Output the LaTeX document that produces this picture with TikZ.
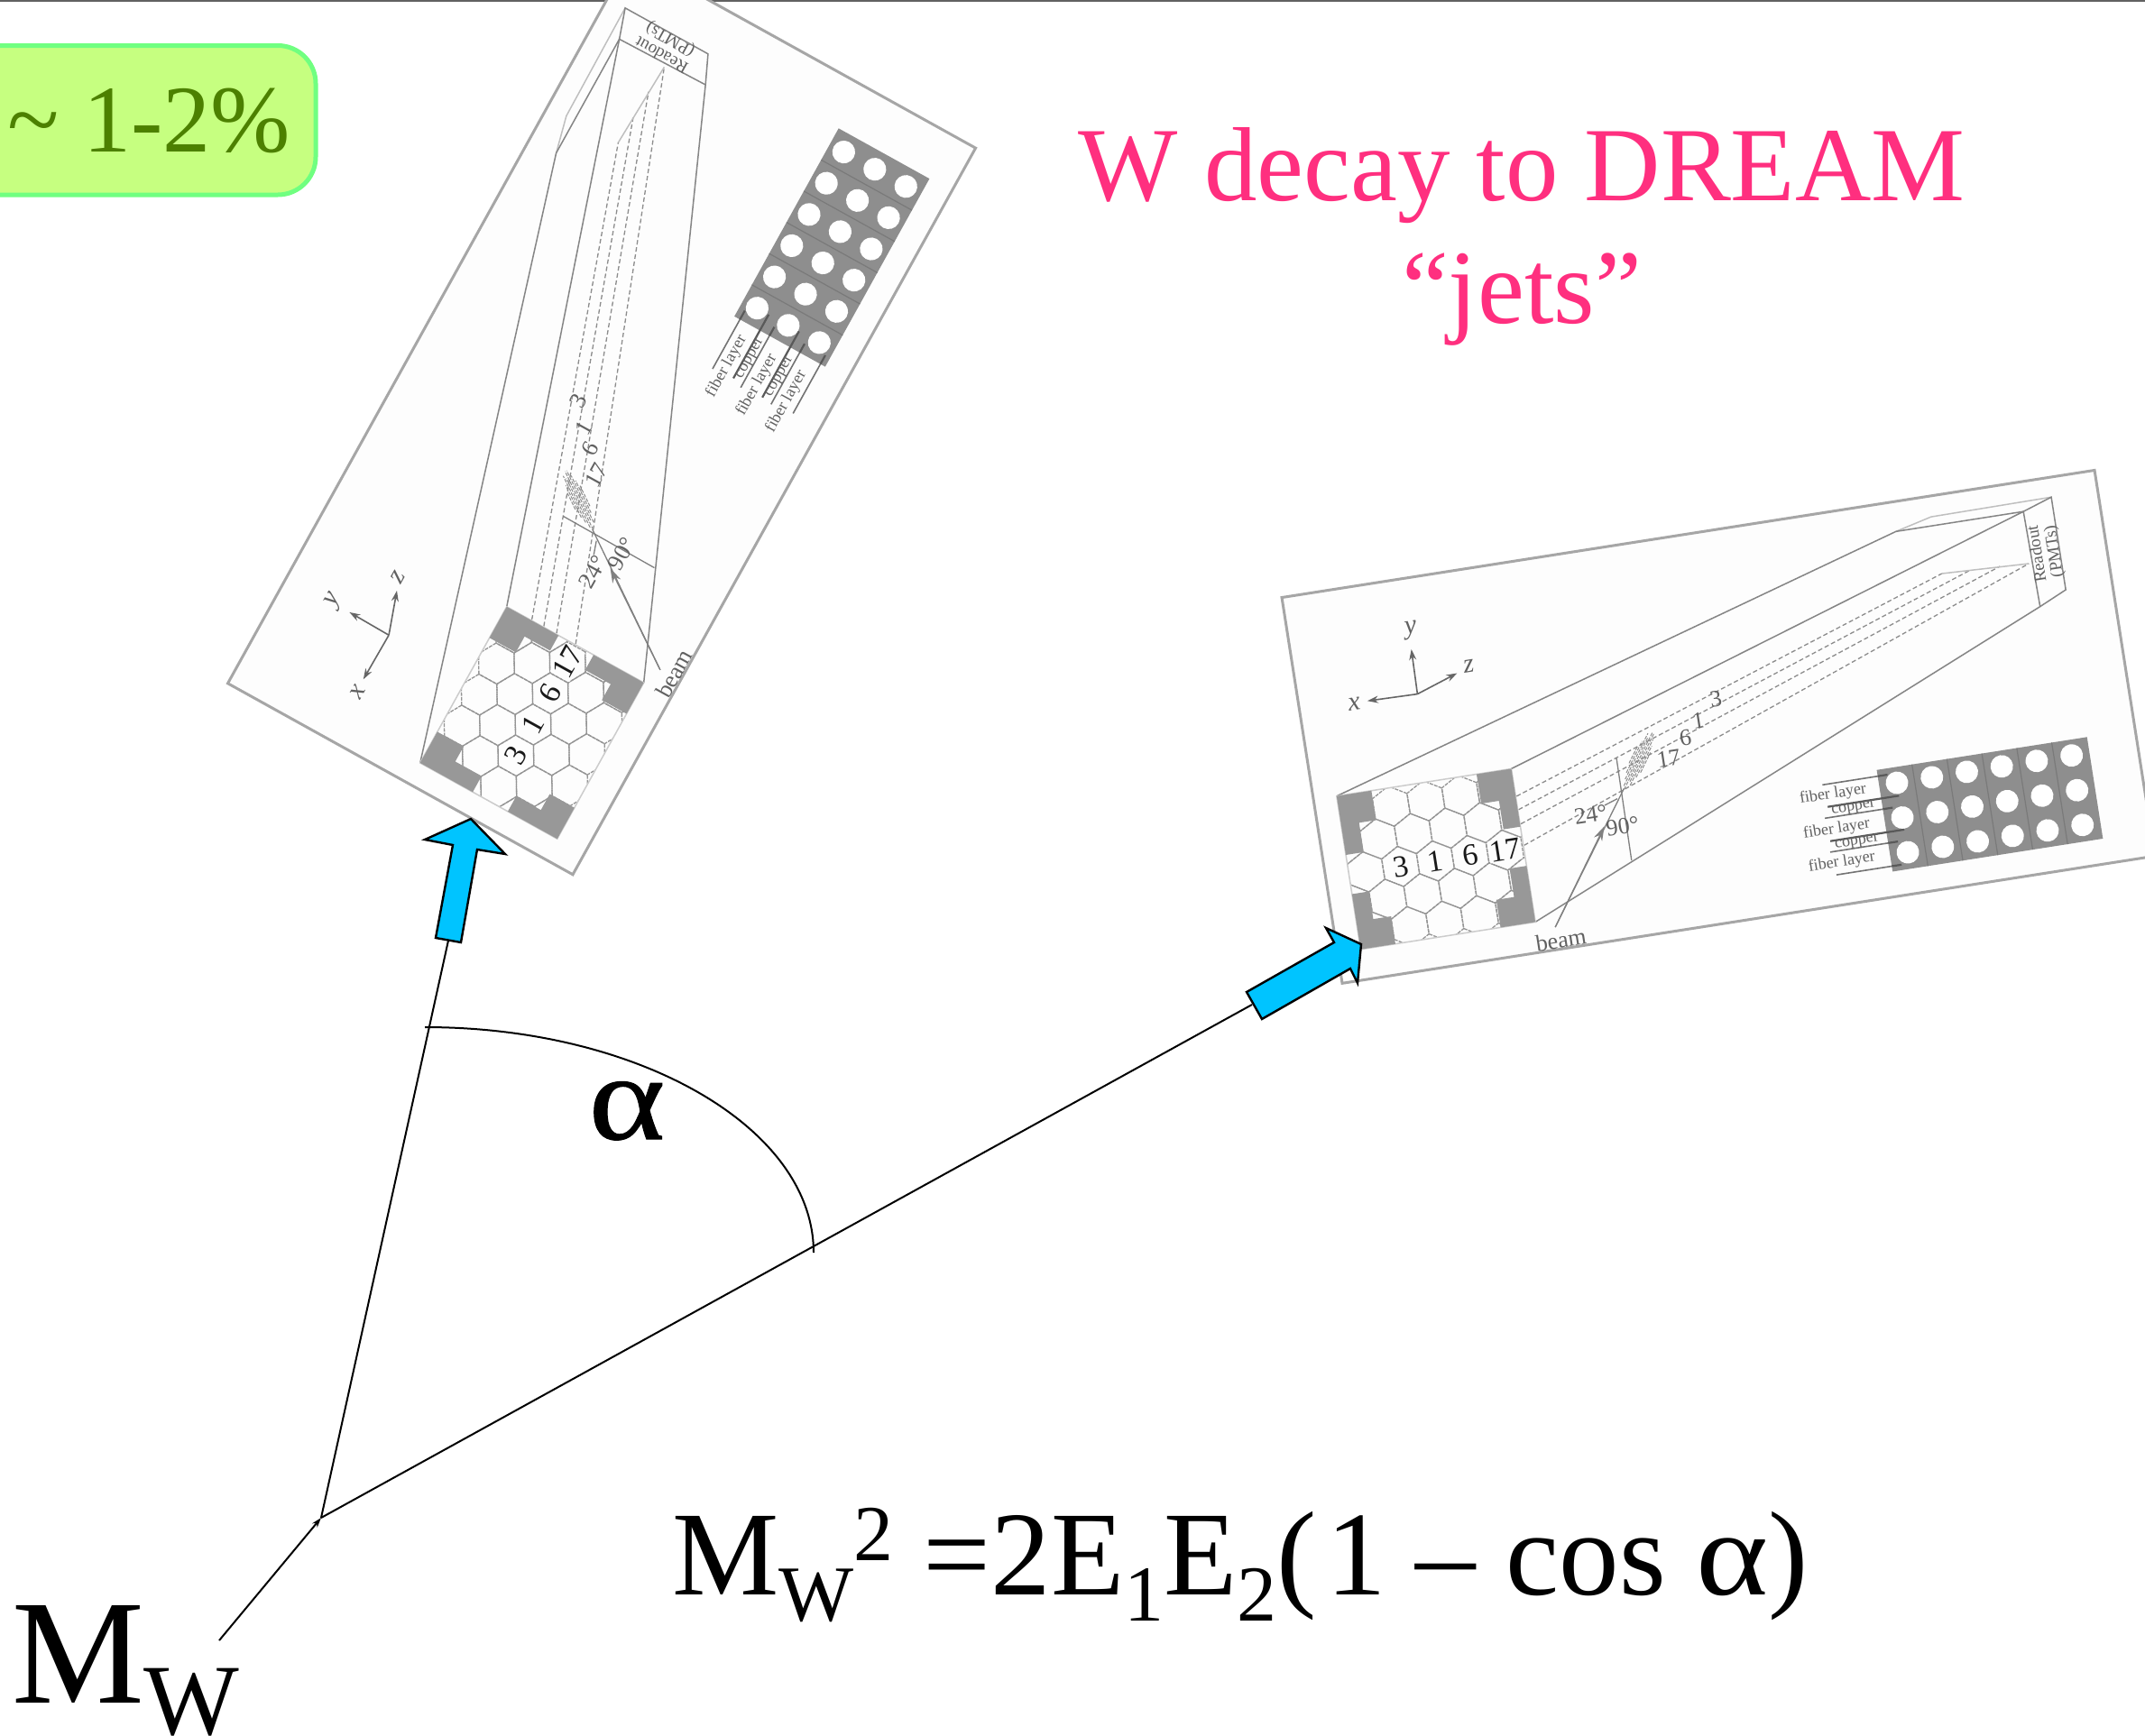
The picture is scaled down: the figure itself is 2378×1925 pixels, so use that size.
\documentclass[tikz,border=0pt]{standalone}
\usepackage{fontspec}
\setmainfont{Liberation Serif}
\newfontfamily\wideserif[FakeStretch=1.15]{Liberation Serif}
\newfontfamily\heavyserif[FakeStretch=1.2,FakeBold=0.8]{Liberation Serif}
\usetikzlibrary{arrows.meta}
\definecolor{imgbg}{HTML}{FDFDFD}
\definecolor{imgedge}{HTML}{A6A6A6}
\definecolor{platecol}{HTML}{8E8E8E}
\definecolor{cornercol}{HTML}{989898}
\definecolor{greenfill}{HTML}{C6FF80}
\definecolor{greenedge}{HTML}{70FF80}
\definecolor{greentext}{HTML}{4C8000}
\definecolor{pinktext}{HTML}{FF2F7F}
\definecolor{bluefill}{HTML}{00C4FF}
\newcommand\fsz[1]{\fontsize{#1}{#1}\selectfont}
\tikzset{
  imgframe/.style={draw=imgedge,fill=imgbg,line width=3pt},
  boxline/.style={draw=black!48,line width=1.5pt},
  farline/.style={draw=black!25,line width=1.5pt},
  hexline/.style={draw=black!42,line width=1.3pt,dash pattern=on 4pt off 1.2pt},
  fibreline/.style={draw=black!45,line width=1.3pt,dash pattern=on 5pt off 3pt},
  corner/.style={fill=cornercol,draw=none},
  dettext/.style={inner sep=0pt,text=black!62},
  cellnum/.style={inner sep=1pt,text=black!90,fill=imgbg,font=\fsz{34}},
  thinray/.style={draw=black!50,line width=1.3pt},
  axisline/.style={draw=black!60,line width=1.6pt,-{Stealth[length=12pt,width=8pt]}},
  layerline/.style={draw=black!55,line width=1.6pt},
  copperline/.style={draw=black!65,line width=2.2pt},
  bluearrow/.style={draw=black,fill=bluefill,line width=2.4pt,line join=miter},
  thin line/.style={draw=black,line width=2pt},
}
\newcommand\detector[1]{%
  \begin{scope}[name prefix=#1-]
    \path[imgframe] (-2,0) rectangle (910,433);
    % far end of the box
    \path[farline] (682,400) -- (723,410) -- (858,411);
    \path[boxline] (24,206) -- (682,400) -- (825,400);
    \path[boxline] (220,206) -- (825,400) -- (827,293) -- (220,34);
    \path[boxline] (825,400) -- (858,411) -- (858,307) -- (827,293);
    \node[dettext,rotate=90,align=center,font=\fsz{19}] (readout) at (843,351) {Readout\\(PMTs)};
    % fibres
    \path[fibreline] (221,175) -- (725,346);
    \path[fibreline] (221,160) -- (757,345);
    \path[fibreline] (221,144) -- (790,344);
    \path[fibreline] (221,120) -- (822,342);
    \path[farline] (725,346) -- (822,342);
    \node[dettext,font=\fsz{26}] (f3) at (456,247) {3};
    \node[dettext,font=\fsz{26}] (f1) at (433,227) {1};
    \node[dettext,font=\fsz{26}] (f6) at (416,210) {6};
    \node[dettext,font=\fsz{26}] (f17) at (394,190) {17};
    % front face with hexagons
    \begin{scope}
      \clip (24,34) rectangle (220,206);
      \foreach \vv in {50.4,118,185.6}
        \foreach \uu in {43,82,121,160,199}
          \path[hexline] (\uu+19.5,\vv+11.25) -- (\uu,\vv+22.5) -- (\uu-19.5,\vv+11.25)
            -- (\uu-19.5,\vv-11.25) -- (\uu,\vv-22.5) -- (\uu+19.5,\vv-11.25) -- cycle;
      \foreach \vv in {84.2,151.8}
        \foreach \uu in {23.5,62.5,101.5,140.5,179.5,218.5}
          \path[hexline] (\uu+19.5,\vv+11.25) -- (\uu,\vv+22.5) -- (\uu-19.5,\vv+11.25)
            -- (\uu-19.5,\vv-11.25) -- (\uu,\vv-22.5) -- (\uu+19.5,\vv-11.25) -- cycle;
    \end{scope}
    \path[draw=black!20,line width=1.5pt] (24,34) rectangle (220,206);
    \path[corner] (24,206) -- (63,206) -- (63,173) -- (44,173) -- (44,140) -- (24,140) -- cycle;
    \path[corner] (181,206) -- (220,206) -- (220,141) -- (201,141) -- (201,173) -- (181,173) -- cycle;
    \path[corner] (220,34) -- (220,97) -- (201,97) -- (201,65) -- (181,65) -- (181,34) -- cycle;
    \path[corner] (24,34) -- (24,96) -- (43,96) -- (43,65) -- (63,65) -- (63,34) -- cycle;
    \node[cellnum] (c3) at (82,118) {3};
    \node[cellnum] (c1) at (121,118) {1};
    \node[cellnum] (c6) at (160,118) {6};
    \node[cellnum] (c17) at (199,118) {17};
    % beam, shower and angles
    \path[thinray] (337,200) -- (336,85);
    \path[thinray] (241,25) -- (340,165);
    \path[thinray,-{Stealth[length=16pt,width=10pt]}] (241,25) -- (312,127);
    \foreach \dd/\aa/\bb in {-8/0.35/0.7,-6/0.25/0.8,-4/0.1/0.9,-2/0.15/1,0/0/1,2/0.05/0.9,4/0.15/0.95,6/0.25/0.8,8/0.4/0.7}
      \path[draw=black!45,line width=1pt,dash pattern=on 4pt off 1.5pt]
        (340+\aa*41-\dd*0.816,164+\aa*58+\dd*0.577) -- (340+\bb*41-\dd*0.816,164+\bb*58+\dd*0.577);
    \path[thinray] (316,150) -- (331,155);
    \node[dettext,font=\fsz{26}] (a24) at (299,142) {24°};
    \node[dettext,font=\fsz{26}] (a90) at (332,124) {90°};
    \node[dettext,font=\fsz{26}] (beam) at (245,10) {beam};
    % axes
    \coordinate (ax) at (130,304);
    \path[axisline] (ax) -- (131,354);
    \path[axisline] (ax) -- (74,305);
    \path[axisline] (ax) -- (177,320);
    \node[dettext,font=\fsz{30}\itshape] (ay) at (134,375) {y};
    \node[dettext,font=\fsz{30}\itshape] (axx) at (59,304) {x};
    \node[dettext,font=\fsz{30}\itshape] (az) at (191,326) {z};
    % layered plate
    \path[fill=platecol] (620,28) rectangle (856,142);
    \foreach \uu in {659.6,698.8,738,777.2,816.4}
      \path[draw=black!52,line width=1.2pt] (\uu,28) -- (\uu,142);
    \foreach \uu in {640,679.2,718.4,757.6,796.8,836}
      \foreach \vv in {46.5,85.5,124.5}
        \path[fill=white] (\uu,\vv) circle (12.5);
    \path[layerline] (558,135) -- (620,135);
    \path[layerline] (555,98) -- (620,98);
    \path[layerline] (555,60) -- (620,60);
    \path[layerline] (558,34) -- (620,34);
    \path[copperline] (560,110) -- (640,110);
    \path[copperline] (557,72) -- (640,72);
    \path[copperline] (620,135) -- (631,135);
    \path[copperline] (620,98) -- (631,98);
    \path[copperline] (620,60) -- (631,60);
    \path[copperline] (620,34) -- (631,34);
    \node[dettext,font=\fsz{18}] (l1) at (568,123) {fiber layer};
    \node[dettext,font=\fsz{18}] (l2) at (588,104) {copper};
    \node[dettext,font=\fsz{18}] (l3) at (566,84) {fiber layer};
    \node[dettext,font=\fsz{18}] (l4) at (586,66) {copper};
    \node[dettext,font=\fsz{18}] (l5) at (566,47) {fiber layer};
  \end{scope}%
}
\begin{document}
\begin{tikzpicture}[x=1pt,y=-1pt]
  \clip (0,0) rectangle (2378,1925);
  \fill[white] (0,0) rectangle (2378,1925);
  \draw[black!62,line width=2pt] (0,0.5) -- (2378,0.5);

  % left detector picture
  \begin{scope}[shift={(636,968)}]
    \begin{scope}[x=1pt,y=1pt,rotate=61,scale=1.01,transform shape]
      \detector{L}
    \end{scope}
  \end{scope}
  % right detector picture
  \begin{scope}[shift={(1490,1090)}]
    \begin{scope}[x=1pt,y=1pt,rotate=8.9,transform shape]
      \detector{R}
    \end{scope}
  \end{scope}

  % badge
  \draw[draw=greenedge,fill=greenfill,line width=5pt,rounded corners=42pt] (-60,50.5) rectangle (350,216);
  \node[anchor=base east,inner sep=0pt,text=greentext,font=\fsz{106}] (badge) at (322,168) {\textasciitilde{} 1-2\%};

  % title
  \node[anchor=base,inner sep=0pt,text=pinktext,font=\fsz{116.8}] (title) at (1687,222) {W decay to DREAM};
  \node[anchor=base,inner sep=0pt,text=pinktext,font=\fsz{116.8}] (jets) at (1687,358) {“jets”};

  % decay lines
  \coordinate (vtx) at (356,1683);
  \coordinate (start) at (243,1819);
  \coordinate (tailA) at (497,1043);
  \coordinate (tailB) at (1388,1114);
  \draw[thin line] (vtx) -- (tailA);
  \draw[thin line] (vtx) -- (tailB);
  \draw[thin line,-{Stealth[length=11pt,width=7pt]}] (start) -- (vtx);
  \draw[thin line] (471,1139) .. controls (709,1139) and (902,1251) .. (902,1389);

  % blue arrows
  \path[bluearrow] (522,908) -- (560,947) -- (529,942) -- (511,1045) -- (483,1040) -- (502,937) -- (471,931) -- cycle;
  \path[bluearrow] (1509,1047) -- (1505,1090) -- (1497,1074) -- (1399,1130) -- (1382,1100) -- (1479,1045) -- (1470,1029) -- cycle;

  % alpha
  \node[anchor=base,inner sep=0pt,font=\fsz{135}\heavyserif] (alpha) at (695,1263) {α};

  % formula
  \node[anchor=base west,inner sep=0pt,font=\fsz{133}] (formula) at (745,1768)
    {M\raisebox{-29pt}{\fsz{88}W}\raisebox{38pt}{\fsz{88}2} =2E\raisebox{-29pt}{\fsz{88}1}E\raisebox{-29pt}{\fsz{88}2}(\hspace{10pt}1 – cos {\wideserif α})};

  % M_W
  \node[anchor=base west,inner sep=0pt,font=\fsz{165}] (mw) at (13,1888)
    {M\raisebox{-35pt}{\fsz{112}W}};
\end{tikzpicture}
\end{document}
